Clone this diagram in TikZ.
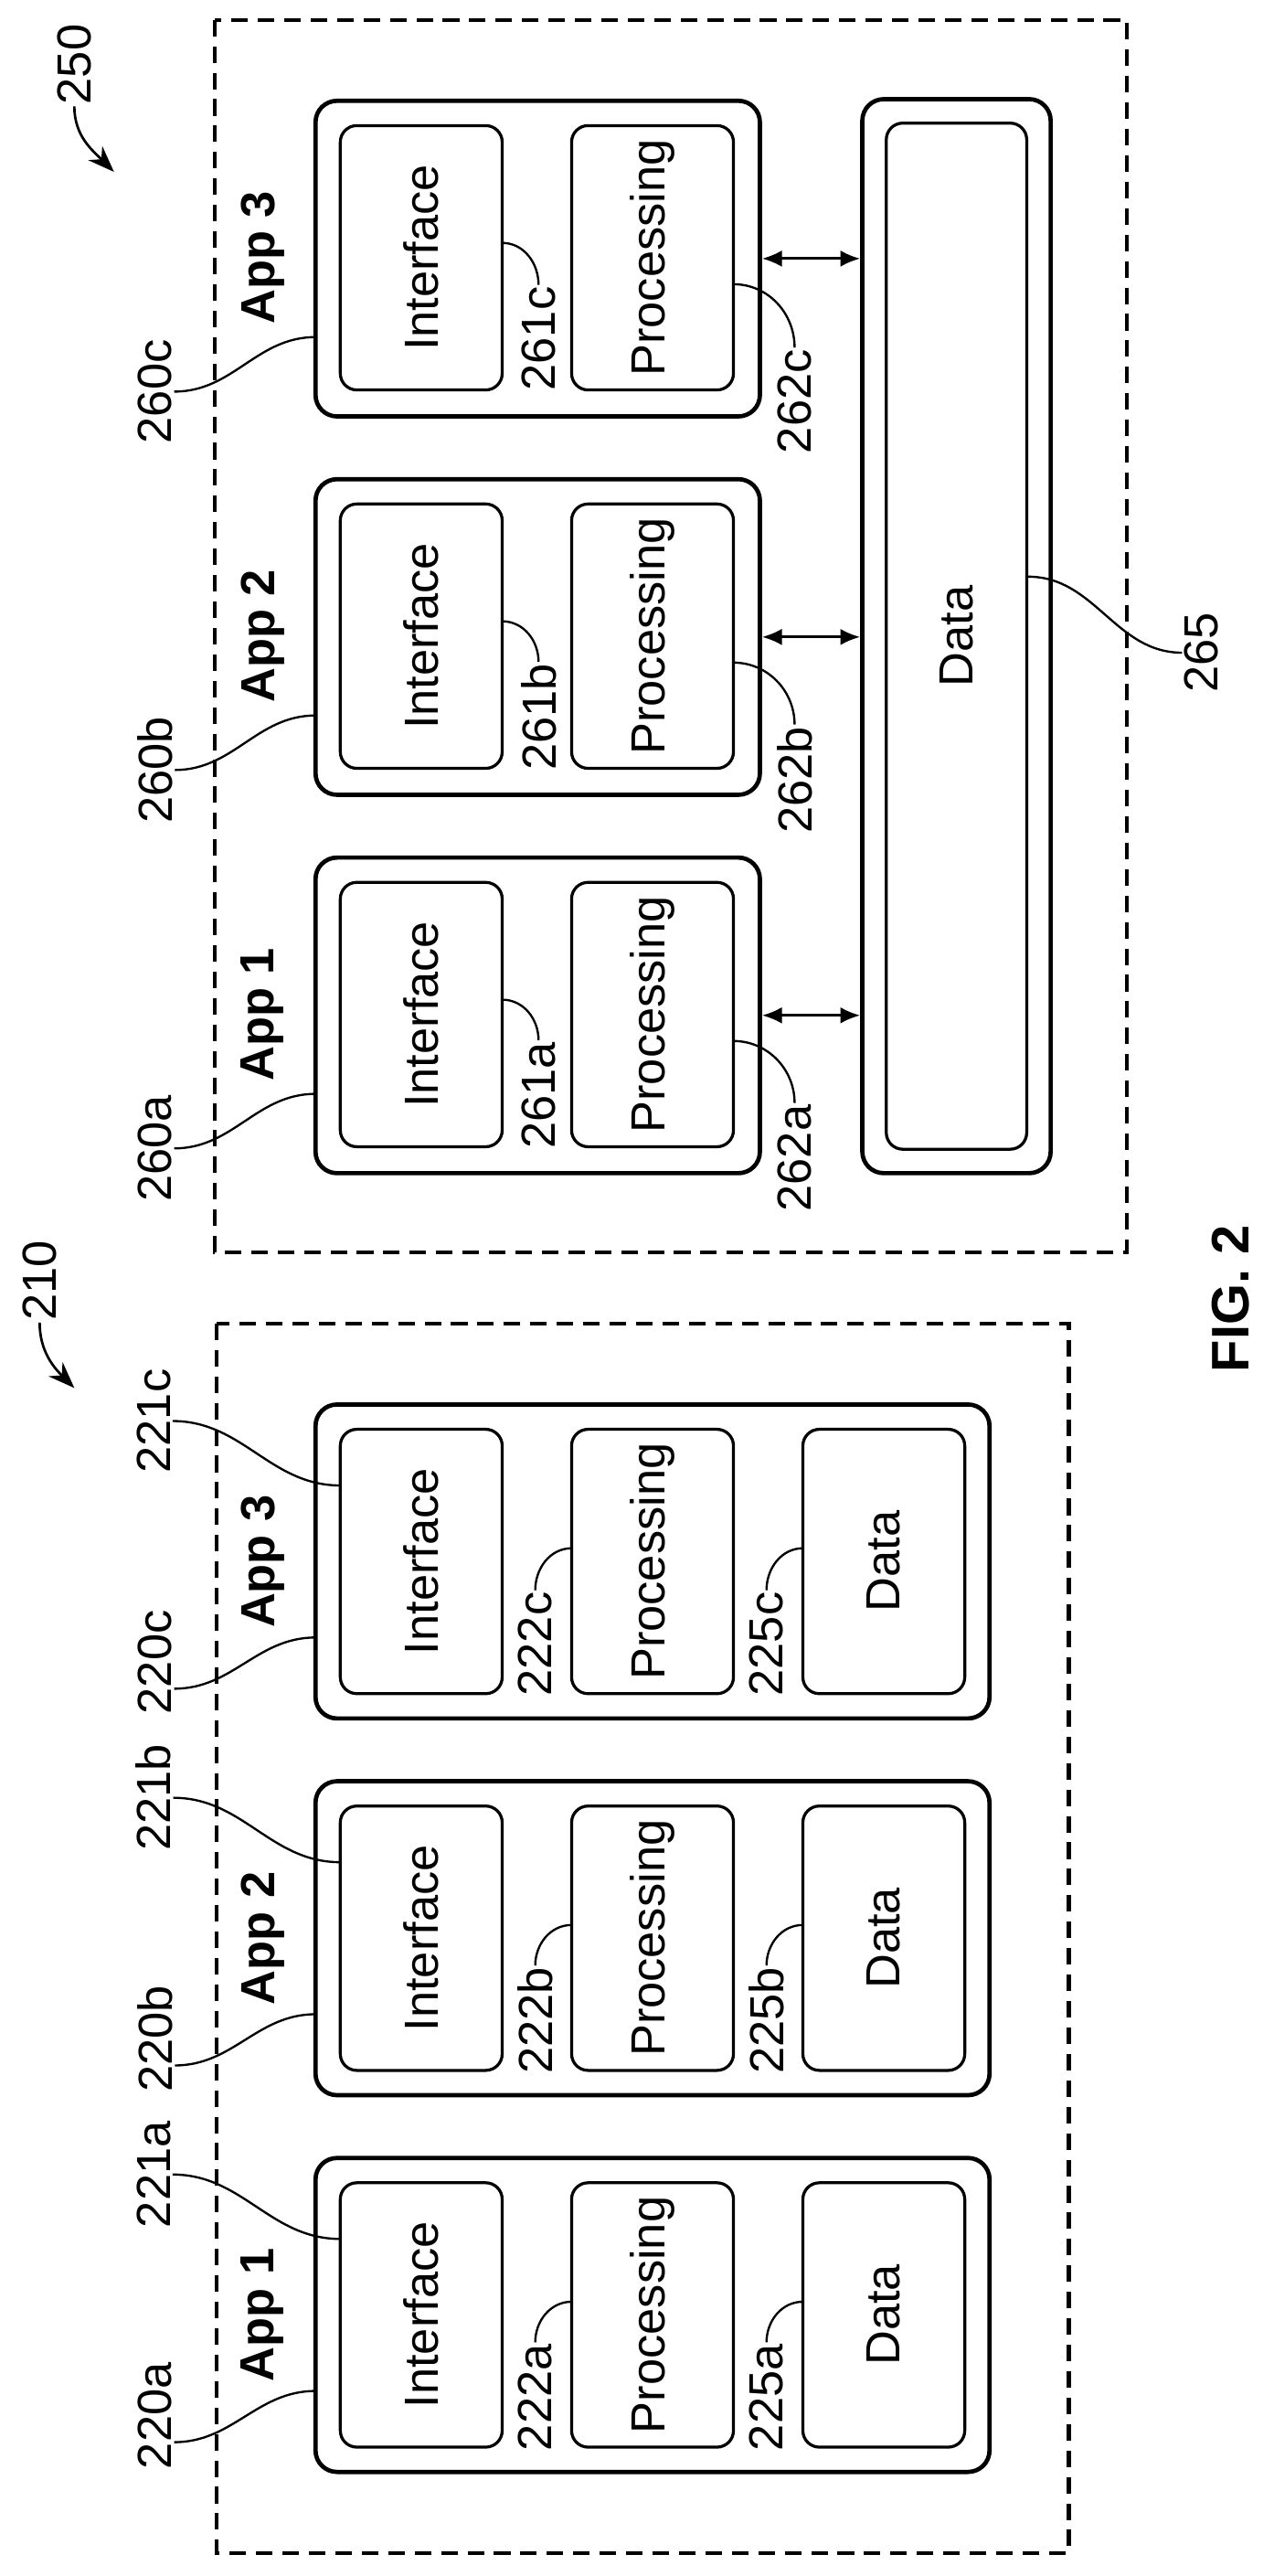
\documentclass[tikz,border=0pt]{standalone}
\usepackage{fontspec}
\setmainfont{Liberation Sans}
\usetikzlibrary{arrows.meta,calc}
\tikzset{
  txt/.style={font=\fontsize{29}{31}\selectfont},
  appbox/.style={draw,line width=2.6pt,rounded corners=13pt,minimum width=269pt,minimum height=191pt},
  subbox/.style={draw,txt,line width=1.8pt,rounded corners=10pt,rotate=90,minimum width=160pt,minimum height=98pt},
  applabel/.style={rotate=90,font=\fontsize{29}{31}\selectfont\bfseries},
  reflabel/.style={txt,rotate=90,inner sep=1pt},
  leader/.style={line width=1.3pt},
  link/.style={line width=1.6pt,{Latex[length=12pt,width=10pt]}-{Latex[length=12pt,width=10pt]}},
  pointer/.style={line width=1.5pt,-{Stealth[length=16pt,width=12pt]}},
  group/.style={line width=2.3pt,dash pattern=on 10pt off 6pt}
}
\begin{document}
\begin{tikzpicture}[x=1pt,y=1pt]
\useasboundingbox (0,0) rectangle (771,-1559);
% system 250
\draw[group] (130,-12) rectangle (682,-758);
\node[reflabel] (r250) at (45,-39) {250};
\draw[pointer] (r250.west) to[out=-90,in=135] (69,-104);
\node[draw,line width=2.6pt,rounded corners=13pt,minimum width=114pt,minimum height=650pt] (data) at (579,-385) {};
\node[subbox,minimum width=621pt,minimum height=85pt] (datain) at (579,-385) {Data};
\node[reflabel] (r265) at (727,-395) {265};
\draw[leader] ($(datain.south)+(0,36)$) to[out=0,in=180] (r265.north);
\foreach \n/\k/\t in {a/1/519,b/2/290,c/3/61}{
  \node[appbox] (app\n) at (325.5,-\t-95.5) {};
  \node[subbox] (int\n) at (255,-\t-95) {Interface};
  \node[subbox] (proc\n) at (395,-\t-95) {Processing};
  \node[applabel] (lbl\n) at (159,-\t-95) {App \k};
  \node[reflabel] (r260\n) at (94,-\t-176) {260\n};
  \draw[leader] (r260\n.south) to[out=0,in=180] (191,-\t-143);
  \node[reflabel] (r261\n) at (326,-\t-144) {261\n};
  \draw[leader] (r261\n.east) to[out=90,in=0] (304,-\t-86);
  \node[reflabel] (r262\n) at (481,-\t-182) {262\n};
  \draw[leader] (r262\n.east) to[out=90,in=0] (444,-\t-111);
  \draw[link] (app\n.east) -- (app\n.east -| data.west);
}
% system 210
\draw[group] (131,-801) rectangle (647,-1545);
\node[reflabel] (r210) at (24,-775) {210};
\draw[pointer] (r210.west) to[out=-90,in=135] (45,-840);
\foreach \n/\k/\t in {a/1/1306,b/2/1078,c/3/850}{
  \node[appbox,minimum width=408pt,minimum height=190pt] (bapp\n) at (395,-\t-95) {};
  \node[subbox] (bint\n) at (255,-\t-95) {Interface};
  \node[subbox] (bproc\n) at (395,-\t-95) {Processing};
  \node[subbox] (bdata\n) at (535,-\t-95) {Data};
  \node[applabel] (blbl\n) at (159,-\t-95) {App \k};
  \node[reflabel] (r220\n) at (94,-\t-156) {220\n};
  \draw[leader] ($(r220\n.south)+(0,-16)$) to[out=0,in=180] (191,-\t-141);
  \node[reflabel] (r221\n) at (93,-\t-10) {221\n};
  \draw[leader] (r221\n.south) to[out=0,in=180] (206,-\t-49);
  \node[reflabel] (r222\n) at (324,-\t-145) {222\n};
  \draw[leader] (r222\n.east) to[out=90,in=180] (346,-\t-87);
  \node[reflabel] (r225\n) at (464,-\t-145) {225\n};
  \draw[leader] (r225\n.east) to[out=90,in=180] (486,-\t-87);
}
\node[rotate=90,font=\fontsize{32}{34}\selectfont\bfseries] (fig) at (745,-786) {FIG. 2};
\end{tikzpicture}
\end{document}
